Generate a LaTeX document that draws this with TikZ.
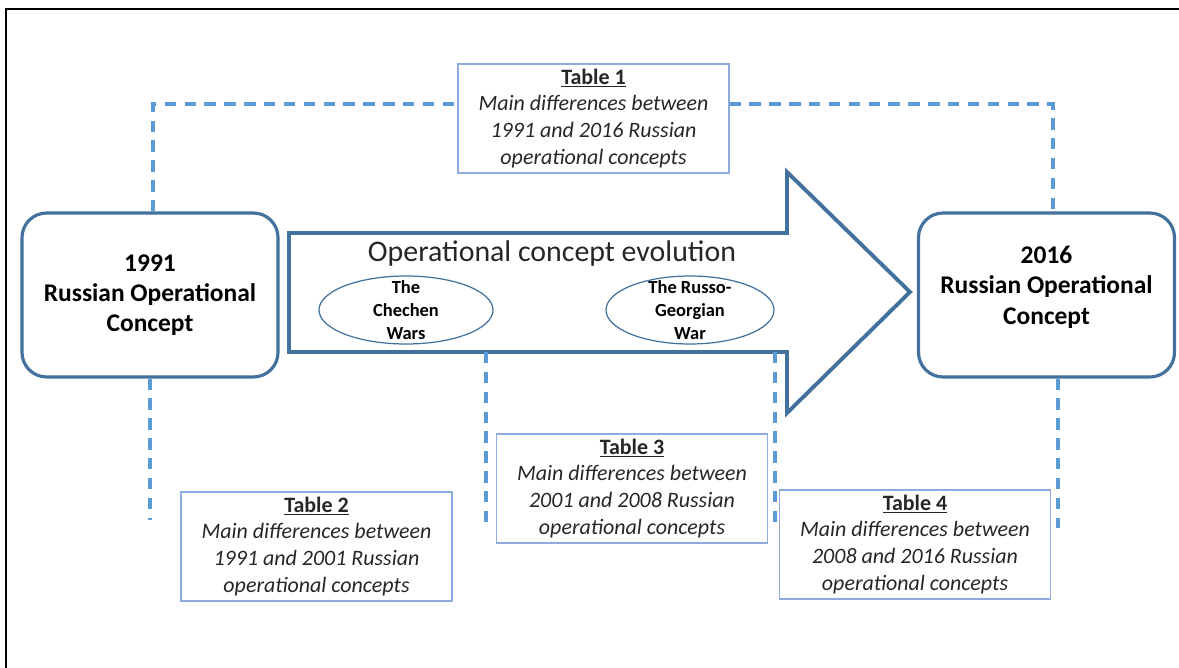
\documentclass[tikz,border=0pt]{standalone}
\usepackage{fontspec}
\setmainfont{Carlito}
\usetikzlibrary{positioning,shapes.geometric}
\definecolor{boxblue}{HTML}{41719C}
\definecolor{dashblue}{HTML}{5B9BD5}
\definecolor{tableblue}{HTML}{8FAADC}
\definecolor{textgray}{HTML}{262626}
\newcommand{\tabtext}[4]{\textbf{\underline{#1}}\\\textit{#2}\\\textit{#3}\\\textit{#4}}
\begin{document}
\begin{tikzpicture}[
x=0.2mm, y=-0.2mm,
concept/.style={draw=boxblue, line width=1.8pt, rounded corners=14pt, align=center, minimum width=51.2mm, minimum height=32.8mm, font=\fontsize{14.5}{17.2}\selectfont\bfseries},
table/.style={draw=tableblue, line width=0.7pt, align=center, minimum width=54.2mm, minimum height=21.8mm, inner sep=2pt, text=textgray, font=\fontsize{12.5}{15.3}\selectfont},
war/.style={ellipse, draw=boxblue, line width=0.7pt, inner sep=0pt},
wartext/.style={align=center, font=\fontsize{10.5}{13}\selectfont\bfseries},
bigarrow/.style={draw=boxblue, line width=2.2pt, line join=miter},
link/.style={draw=dashblue, line width=1.8pt, dash pattern=on 6.5pt off 4.8pt}
]
\useasboundingbox (0,0) rectangle (1179,668);
\draw[line width=1.1pt] (6,668) -- (6,9) -- (1179,9);

% the evolution arrow
\draw[bigarrow] (289,233) -- (787,233) -- (787,172) -- (910,292) -- (787,413) -- (787,352) -- (289,352) -- cycle;
\node[text=textgray, font=\fontsize{17}{20}\selectfont] (evo) at (552,254) {Operational concept evolution};
\node[war, minimum width=34.8mm, minimum height=13.6mm] (chechen) at (406,310) {};
\node[wartext] at (chechen) {The\\Chechen\\Wars};
\node[war, minimum width=33.6mm, minimum height=13.6mm] (georgia) at (690,310) {};
\node[wartext] at (georgia) {The Russo-\\Georgian\\War};

% concepts
\node[concept] (c1991) at (150,295) {1991\\Russian Operational\\Concept};
\node[concept] (c2016) at (1046.5,295) {2016\\Russian Operational\\Concept\\[-6pt]~};

% tables
\node[table] (tab1) at (593.5,118.5) {\tabtext{Table 1}{Main differences between}{1991 and 2016 Russian}{operational concepts}};
\node[table] (tab2) at (316.5,546.5) {\tabtext{Table 2}{Main differences between}{1991 and 2001 Russian}{operational concepts}};
\node[table] (tab3) at (632,488.5) {\tabtext{Table 3}{Main differences between}{2001 and 2008 Russian}{operational concepts}};
\node[table] (tab4) at (915,544.5) {\tabtext{Table 4}{Main differences between}{2008 and 2016 Russian}{operational concepts}};

% dashed links
\coordinate (tl) at (153,104);
\coordinate (tr) at (1053,104);
\coordinate (e1) at (150,520);
\coordinate (s2) at (486,352);
\coordinate (e2) at (486,523);
\coordinate (s3) at (775,352);
\coordinate (e3) at (775,525);
\coordinate (e4) at (1058,528);
\draw[link] (c1991.north -| tl) |- (tab1.west |- tl);
\draw[link] (tab1.east |- tr) -| (c2016.north -| tr);
\draw[link] (c1991.south) -- (e1);
\draw[link] (s2) -- (e2);
\draw[link] (s3) -- (e3);
\draw[link] (c2016.south -| e4) -- (e4);
\end{tikzpicture}
\end{document}
